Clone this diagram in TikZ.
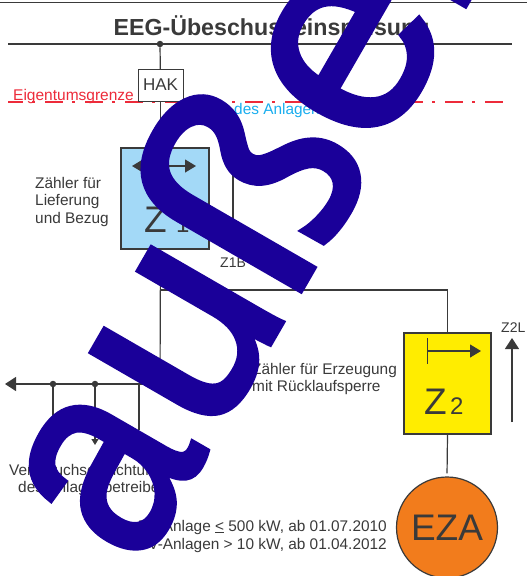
\documentclass[tikz,border=0pt]{standalone}
\usepackage{graphicx}
\usepackage{fontspec}
\setmainfont{Liberation Sans}
\newfontfamily\stampfont[FakeBold=2.4]{Liberation Sans}
\usetikzlibrary{arrows.meta}
\definecolor{ink}{HTML}{3A3A3A}
\definecolor{wm}{HTML}{1A0099}
\definecolor{zblue}{HTML}{A3D9F7}
\definecolor{zyellow}{HTML}{FFED00}
\definecolor{ezaor}{HTML}{F27C1C}
\definecolor{redline}{HTML}{ED2B3A}
\definecolor{cyantext}{HTML}{1AAEEF}
\tikzset{
  wire/.style={draw=ink,line width=1.2pt},
  bigarrow/.style={wire,-{Triangle[length=11pt,width=14pt]}},
  lab/.style={text=ink,font=\fontsize{15.4}{17.6}\selectfont,inner sep=0pt,align=left},
  dotnode/.style={circle,fill=ink,inner sep=0pt,minimum size=6.5pt},
  meter/.style={draw=ink,rectangle,inner sep=0pt},
}
\begin{document}
\begin{tikzpicture}[x=1pt,y=-1pt]
\useasboundingbox (0,0) rectangle (527,576);
\clip (0,0) rectangle (527,576);
\fill[white] (0,0) rectangle (527,576);
% rails
\coordinate (railAl) at (0,2.5); \coordinate (railAr) at (527,2.5);
\draw[wire] (railAl) -- (railAr);
\coordinate (railBl) at (8,44); \coordinate (railBr) at (512,44);
\draw[wire] (railBl) -- (railBr);
\node[text=ink,font=\fontsize{23.2}{26}\selectfont\bfseries,inner sep=0pt,anchor=base] (title) at (271.5,35) {EEG-Übeschusseinspeisung};
% ownership line
\coordinate (ownl) at (8,102); \coordinate (ownr) at (503,102);
\draw[redline,line width=1.3pt,dash pattern=on 18pt off 9pt on 3pt off 10pt,dash phase=3pt] (ownl) -- (ownr);
\node[text=redline,font=\fontsize{15.5}{18}\selectfont,inner sep=0pt,anchor=base west] (own) at (13,100) {Eigentumsgrenze};
\node[text=cyantext,font=\fontsize{15.4}{18}\selectfont,inner sep=0pt,anchor=base west] (ownB) at (234,114) {des Anlagen};
% main nodes
\node[dotnode] (top) at (160,44) {};
\node[meter,fill=white,minimum width=45pt,minimum height=32pt,text=ink,font=\fontsize{17}{18}\selectfont] (hak) at (160.5,85) {HAK};
\node[meter,fill=zblue,line width=1.3pt,minimum width=88pt,minimum height=101pt] (z1) at (165,198.5) {};
\node[meter,fill=zyellow,line width=2pt,minimum width=87pt,minimum height=101pt] (z2) at (447.5,383.5) {};
\node[circle,draw=ink,fill=ezaor,line width=1.2pt,minimum size=101pt,inner sep=0pt,text=ink,font=\fontsize{37}{40}\selectfont] (eza) at (447,527.5) {EZA};
\coordinate (busL) at (5,384);
\coordinate (busR) at (160,384);
\coordinate (feedA) at (160,290);
\coordinate (feedB) at (447.5,290);
\node[dotnode] (d1) at (53,384) {};
\node[dotnode] (d2) at (95,384) {};
\coordinate (drop1) at (53,430);
\coordinate (drop2) at (95,445);
\coordinate (drop3) at (139,430);
\coordinate (bus3) at (139,384);
% connectors
\draw[wire] (top) -- (hak);
\draw[wire] (hak) -- (z1.north -| hak);
\draw[wire] (z1.south -| hak) -- (busR);
\draw[wire] (feedA) -- (feedB) -- (z2.north);
\draw[wire,shorten >=3pt] (z2.south) -- (eza.north);
\draw[bigarrow] (busR) -- (busL);
\draw[wire] (d1) -- (drop1);
\draw[wire,-{Triangle[length=6pt,width=7pt]}] (d2) -- (drop2);
\draw[wire] (bus3) -- (drop3);
% Z1 contents
\coordinate (z1al) at (132,166); \coordinate (z1ar) at (196,166);
\draw[wire,{Triangle[length=11pt,width=13pt]}-{Triangle[length=11pt,width=13pt]}] (z1al) -- (z1ar);
\node[text=ink,font=\fontsize{37}{40}\selectfont,inner sep=0pt,anchor=base west] (zt) at (144,232) {Z};
\node[text=ink,font=\fontsize{24}{28}\selectfont,inner sep=0pt,anchor=base west] (zi) at (176,232) {1};
\coordinate (z1ba) at (233,248); \coordinate (z1bb) at (233,168);
\draw[wire] (z1ba) -- (z1bb);
\node[lab,anchor=base west,font=\fontsize{14}{15}\selectfont] (z1b) at (220,267) {Z1B};
\node[lab,anchor=north west] (z1lab) at (35,177) {Zähler für\\Lieferung\\und Bezug};
% Z2 contents
\coordinate (z2t1) at (427.5,338); \coordinate (z2t2) at (427.5,364);
\draw[draw=ink,line width=1pt] (z2t1) -- (z2t2);
\coordinate (z2a1) at (427.5,351); \coordinate (z2a2) at (481,351);
\draw[wire,-{Triangle[length=11pt,width=13pt]}] (z2a1) -- (z2a2);
\node[text=ink,font=\fontsize{37}{40}\selectfont,inner sep=0pt,anchor=base west] (zt2) at (424,414) {Z};
\node[text=ink,font=\fontsize{24}{28}\selectfont,inner sep=0pt,anchor=base west] (zi2) at (450,414) {2};
\coordinate (z2la) at (512,422); \coordinate (z2lb) at (512,338);
\draw[bigarrow] (z2la) -- (z2lb);
\node[lab,anchor=base west,font=\fontsize{14}{15}\selectfont] (z2l) at (501,332) {Z2L};
% labels
\node[lab,anchor=north west] (erz) at (252,363) {Zähler für Erzeugung\\mit Rücklaufsperre};
\node[lab,anchor=north west] (ver) at (9,464) {Verbrauchseinrichtung\\\hspace*{9pt}des Anlagenbetreibers};
\node[lab,anchor=base east,align=right] (pv1) at (387,531) {PV-Anlage \underline{<} 500 kW, ab 01.07.2010};
\node[lab,anchor=base east,align=right] (pv2) at (387,549) {PV-Anlagen > 10 kW, ab 01.04.2012};
% overlay
\node[text=wm,font=\stampfont\fontsize{282}{282}\selectfont,inner sep=0pt,anchor=base west,rotate=60] (stamp) at (139,569.3) {\scalebox{.87}[1]{a}\kern10ptußer};
\end{tikzpicture}
\end{document}
